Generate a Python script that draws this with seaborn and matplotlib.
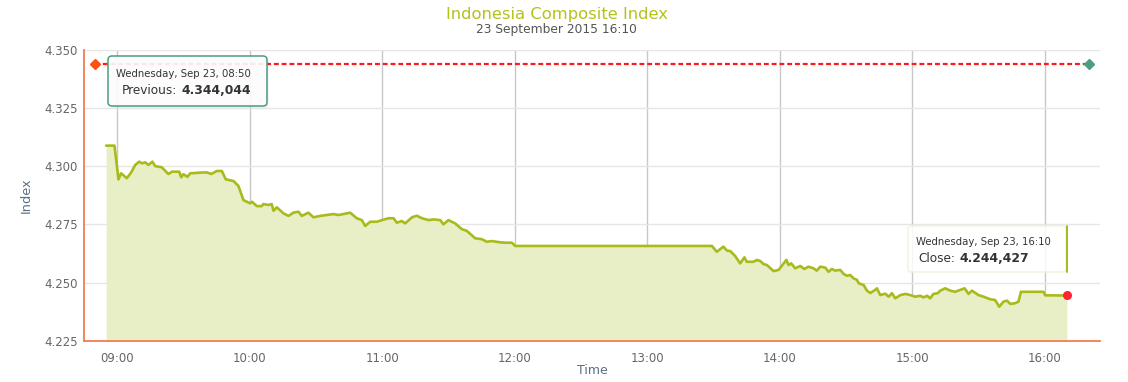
import numpy as np
import pandas as pd
import seaborn as sns
import matplotlib.pyplot as plt
from matplotlib.patches import FancyBboxPatch
from matplotlib.lines import Line2D
import matplotlib.transforms as mtrans

# ---- data (minutes since midnight, index value) ----
minutes = [535.0, 538.8, 540.6, 541.8, 544.4, 546.3, 548.2, 550.0, 551.2, 552.7,
           554.2, 556.0, 557.2, 560.2, 563.2, 564.8, 568.1, 569.0, 570.0, 571.8,
           573.1, 577.6, 580.6, 582.6, 585.1, 587.4, 589.2, 592.7, 594.9, 597.2,
           600.2, 601.0, 603.3, 605.5, 606.2, 608.5, 610.0, 610.8, 612.3, 615.3,
           617.6, 619.8, 622.1, 623.6, 626.6, 628.9, 631.9, 635.0, 638.0, 640.2,
           642.5, 645.5, 648.5, 650.8, 652.3, 654.6, 657.6, 659.9, 662.9, 665.2,
           666.6, 668.9, 670.4, 673.5, 675.7, 678.0, 681.0, 683.2, 686.3, 687.7,
           690.0, 693.0, 696.1, 698.3, 702.1, 705.1, 707.4, 709.7, 713.1, 715.7,
           718.7, 720.2, 809.3, 811.5, 814.5, 816.1, 817.6, 819.8, 822.1, 824.0,
           825.1, 828.1, 829.7, 831.2, 832.7, 834.2, 837.2, 839.5, 843.0, 844.0,
           845.2, 847.0, 849.3, 851.1, 853.0, 855.3, 856.8, 858.3, 860.6, 862.1,
           863.6, 865.1, 867.4, 868.9, 870.4, 871.9, 873.4, 875.0, 875.7, 878.0,
           879.5, 881.0, 883.2, 884.0, 885.5, 887.8, 889.3, 890.8, 892.3, 894.6,
           896.9, 899.1, 901.3, 903.6, 905.1, 906.7, 908.1, 909.6, 911.5, 912.7,
           914.9, 917.2, 919.4, 921.7, 923.7, 925.5, 927.0, 930.0, 932.3, 935.3,
           937.5, 939.4, 941.3, 942.9, 944.4, 946.6, 948.1, 949.2, 959.4, 960.2,
           970.0]
values = [4.3088, 4.3088, 4.2943, 4.2969, 4.2948, 4.2972, 4.3005, 4.3019, 4.3012, 4.3016,
          4.3005, 4.3019, 4.3000, 4.2995, 4.2966, 4.2976, 4.2976, 4.2952, 4.2965, 4.2954,
          4.2969, 4.2972, 4.2973, 4.2966, 4.2979, 4.2979, 4.2943, 4.2936, 4.2915, 4.2854,
          4.2840, 4.2847, 4.2828, 4.2828, 4.2837, 4.2833, 4.2837, 4.2808, 4.2823, 4.2797,
          4.2786, 4.2800, 4.2804, 4.2786, 4.2800, 4.2780, 4.2786, 4.2790, 4.2794, 4.2790,
          4.2794, 4.2800, 4.2776, 4.2768, 4.2743, 4.2761, 4.2761, 4.2768, 4.2776, 4.2776,
          4.2757, 4.2764, 4.2754, 4.2780, 4.2787, 4.2776, 4.2768, 4.2771, 4.2768, 4.2750,
          4.2768, 4.2754, 4.2729, 4.2722, 4.2690, 4.2686, 4.2675, 4.2678, 4.2673, 4.2671,
          4.2671, 4.2657, 4.2657, 4.2632, 4.2654, 4.2637, 4.2635, 4.2614, 4.2582, 4.2608,
          4.2589, 4.2589, 4.2597, 4.2592, 4.2579, 4.2575, 4.2549, 4.2554, 4.2597, 4.2575,
          4.2582, 4.2561, 4.2571, 4.2558, 4.2568, 4.2561, 4.2551, 4.2568, 4.2564, 4.2546,
          4.2558, 4.2551, 4.2554, 4.2537, 4.2529, 4.2532, 4.2518, 4.2511, 4.2497, 4.2489,
          4.2465, 4.2455, 4.2468, 4.2475, 4.2446, 4.2452, 4.2439, 4.2454, 4.2432, 4.2446,
          4.2451, 4.2446, 4.2439, 4.2443, 4.2436, 4.2443, 4.2432, 4.2451, 4.2454, 4.2465,
          4.2475, 4.2465, 4.2460, 4.2468, 4.2475, 4.2451, 4.2465, 4.2446, 4.2439, 4.2428,
          4.2425, 4.2396, 4.2418, 4.2422, 4.2408, 4.2411, 4.2418, 4.2460, 4.2460, 4.2445,
          4.2444]

previous_value = 4.344044
previous_start_min = 530.0   # 08:50
previous_end_min = 980.0     # 16:20
close_value = 4.244427
close_min = 970.0            # 16:10

hour_ticks = [9, 10, 11, 12, 13, 14, 15, 16]
hour_labels = ["09:00", "10:00", "11:00", "12:00", "13:00", "14:00", "15:00", "16:00"]
y_ticks = [4.225, 4.250, 4.275, 4.300, 4.325, 4.350]
y_labels = ["4.225", "4.250", "4.275", "4.300", "4.325", "4.350"]

title = "Indonesia Composite Index"
subtitle = "23 September 2015 16:10"
tip1_head = "Wednesday, Sep 23, 08:50"
tip1_label = "Previous:"
tip1_value = "4.344,044"
tip2_head = "Wednesday, Sep 23, 16:10"
tip2_label = "Close:"
tip2_value = "4.244,427"

# ---- styling ----
LINE = "#a9bb1b"
FILL = "#e8eec6"
AXIS = "#f47c52"
TXT = "#666666"

sns.set_theme(style="white")
plt.rcParams['font.family'] = ['DejaVu Sans']

df = pd.DataFrame({"hour": np.array(minutes) / 60.0, "value": values})

W, H = 1128, 382
fig = plt.figure(figsize=(W / 100, H / 100), dpi=100)
ax = fig.add_axes([84 / W, 1 - 340.7 / H, 1016 / W, 291 / H])

ax.set_axisbelow(True)
ax.yaxis.grid(True, color="#e6e6e6", lw=1)
ax.xaxis.grid(True, color="#c8c8c8", lw=1)

ax.fill_between(df["hour"], df["value"], 4.225, color=FILL, lw=0, zorder=1)
sns.lineplot(data=df, x="hour", y="value", ax=ax, color=LINE, lw=1.9, zorder=3)

# previous close reference line
ax.plot([previous_start_min / 60, previous_end_min / 60], [previous_value] * 2,
        color="#ff1a1a", lw=1.6, dashes=(2.2, 1.3), zorder=4)
ax.plot(previous_start_min / 60, previous_value, marker="D", color="#ff5010",
        ms=5.5, zorder=5, clip_on=False)
ax.plot(previous_end_min / 60, previous_value, marker="D", color="#4aa07c",
        ms=5.5, zorder=5, clip_on=False)
ax.plot(close_min / 60, close_value, marker="o", color="#ff2233", ms=6.5,
        zorder=6, mec="none")

ax.set_xlim(8.75, 16 + 25 / 60)
ax.set_ylim(4.225, 4.350)
ax.set_xticks(hour_ticks)
ax.set_xticklabels(hour_labels)
ax.set_yticks(y_ticks)
ax.set_yticklabels(y_labels)

for s in ["top", "right"]:
    ax.spines[s].set_visible(False)
for s in ["left", "bottom"]:
    ax.spines[s].set_color(AXIS)
    ax.spines[s].set_linewidth(1.3)
    ax.spines[s].set_zorder(7)

ax.tick_params(axis="x", colors=AXIS, length=5, width=1.2, direction="out",
               pad=3, labelsize=8.5, labelcolor=TXT)
ax.tick_params(axis="y", colors="#c0c0c0", length=2.5, width=1, direction="out",
               pad=2, labelsize=8.5, labelcolor=TXT)

ax.set_xlabel("Time", fontsize=9, color="#5b6f84")
ax.set_ylabel("Index", fontsize=9.3, color="#5b6f84")
ax.xaxis.set_label_coords(0.5, -0.080)
ax.yaxis.set_label_coords(-0.050, 0.5)

# titles
fig.text(556.5 / W, 1 - 14 / H, title, ha="center", va="center",
         fontsize=11.8, color="#b3c21c")
fig.text(556.5 / W, 1 - 30 / H, subtitle, ha="center", va="center",
         fontsize=8.8, color="#555555")

# tooltips in pixel coordinates
ident = mtrans.IdentityTransform()
shadow1 = FancyBboxPatch((109.5, H - 107.5), 159, 50,
                         boxstyle="round,pad=0,rounding_size=4",
                         fc=(0, 0, 0, 0.08), ec="none",
                         transform=ident, zorder=9)
fig.patches.append(shadow1)
box1 = FancyBboxPatch((108, H - 106), 159, 50,
                      boxstyle="round,pad=0,rounding_size=4",
                      fc=(1, 1, 1, 0.9), ec="#4a9e7c", lw=1.1,
                      transform=ident, zorder=10)
fig.patches.append(box1)
fig.text(116, H - 74, tip1_head, transform=ident, ha="left", va="center",
         fontsize=7.3, color="#333333", zorder=11)
fig.text(177, H - 91, tip1_label, transform=ident, ha="right", va="center",
         fontsize=8.7, color="#333333", zorder=11)
fig.text(181, H - 91, tip1_value, transform=ident, ha="left", va="center",
         fontsize=8.9, color="#333333", fontweight="bold", zorder=11)

box2 = FancyBboxPatch((908, H - 272), 158, 46,
                      boxstyle="round,pad=0,rounding_size=3",
                      fc=(1, 1, 1, 0.85), ec="#eef1dc", lw=1,
                      transform=ident, zorder=10)
fig.patches.append(box2)
fig.lines.append(Line2D([1066.5, 1066.5], [H - 272, H - 226], color=LINE,
                        lw=1.4, transform=ident, zorder=11))
fig.text(916, H - 242, tip2_head, transform=ident, ha="left", va="center",
         fontsize=7.3, color="#333333", zorder=11)
fig.text(955, H - 259, tip2_label, transform=ident, ha="right", va="center",
         fontsize=8.7, color="#333333", zorder=11)
fig.text(960, H - 259, tip2_value, transform=ident, ha="left", va="center",
         fontsize=8.9, color="#333333", fontweight="bold", zorder=11)

fig.savefig("out.png", dpi=100)
